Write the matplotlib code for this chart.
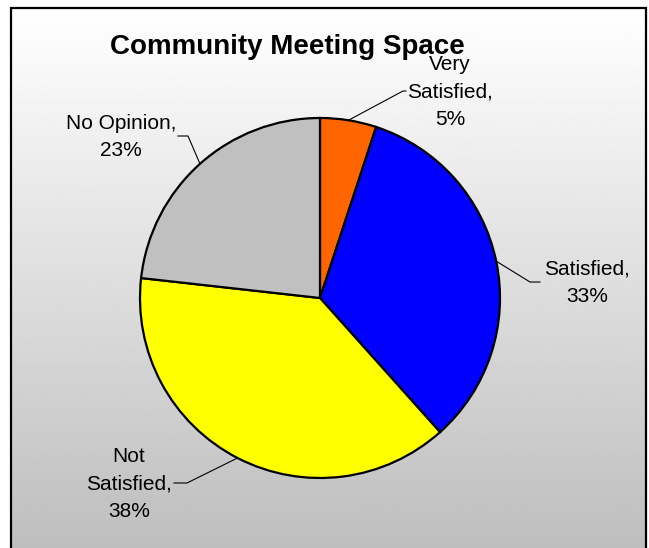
import numpy as np
import matplotlib
matplotlib.use('Agg')
import matplotlib.pyplot as plt

plt.rcParams['font.family'] = ['Liberation Sans', 'DejaVu Sans']

title = 'Community Meeting Space'
categories = ['Very Satisfied', 'Satisfied', 'Not Satisfied', 'No Opinion']
values = [5, 33, 38, 23]
label_texts = ['Very\nSatisfied,\n5%', 'Satisfied,\n33%', 'Not\nSatisfied,\n38%', 'No Opinion,\n23%']
colors = ['#FF6600', '#0000FF', '#FFFF00', '#C0C0C0']

# layout (pixel coordinates, y down)
W, H = 649, 548
cx, cy, R = 320, 298, 180
elbows = [(403, 91), (530, 282), (187, 483), (188, 136)]
ends = [(406, 91), (540, 282), (174, 483), (178, 136)]
text_pos = [(450, 92), (587, 283), (129, 484), (121, 137)]

fig = plt.figure(figsize=(6.49, 5.48), dpi=100)

bg = fig.add_axes([0, 0, 1, 1])
bg.axis('off')
grad = np.linspace(1.0, 0.745, 256)[:, None]
bg.imshow(grad, cmap='gray', vmin=0, vmax=1, extent=[11, 646, 548, 8], aspect='auto')
bg.plot([11, 11, 646, 646], [560, 8, 8, 560], color='black', lw=1.6, solid_joinstyle='miter')
bg.set_xlim(0, W)
bg.set_ylim(H, 0)

ax = fig.add_axes([(cx - R) / W, (H - cy - R) / H, 2 * R / W, 2 * R / H])
wedges, _ = ax.pie(values, colors=colors, startangle=90, counterclock=False,
                   wedgeprops=dict(edgecolor='black', linewidth=1.6))
for w in wedges:
    w.set_clip_on(False)
ax.set_xlim(-1, 1)
ax.set_ylim(-1, 1)
ax.axis('off')

ov = fig.add_axes([0, 0, 1, 1])
ov.set_xlim(0, W)
ov.set_ylim(H, 0)
ov.axis('off')
ov.patch.set_alpha(0)

vals = np.array(values, dtype=float)
mids = (np.cumsum(vals) - vals / 2) / vals.sum() * 2 * np.pi
for i in range(len(values)):
    ex = cx + R * np.sin(mids[i])
    ey = cy - R * np.cos(mids[i])
    ov.plot([ex, elbows[i][0], ends[i][0]], [ey, elbows[i][1], ends[i][1]],
            color='black', lw=0.8)
    ov.text(text_pos[i][0], text_pos[i][1], label_texts[i], ha='center', va='center',
            multialignment='center', fontsize=15, linespacing=1.56)

ov.text(287, 47, title, ha='center', va='center', fontsize=20, fontweight='bold')

fig.savefig('out.png', dpi=100)
